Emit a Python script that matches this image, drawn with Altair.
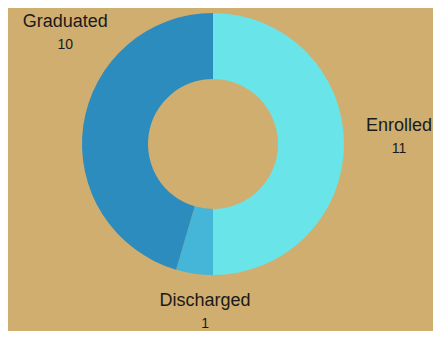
import altair as alt
import pandas as pd
import math

categories = ["Enrolled", "Discharged", "Graduated"]
values = [11, 1, 10]
colors = ["#69E5E9", "#45B6D7", "#2D8CBE"]

# label placement (angle in degrees clockwise from top, distance in px from centre)
label_angle = [88.2, 182.7, 306.6]
label_dist = [186, 169, 184]

df = pd.DataFrame({
    "category": categories,
    "value": values,
    "order": list(range(len(categories))),
    "lab_theta": [a * math.pi / 180 for a in label_angle],
    "lab_r": label_dist,
})

base = alt.Chart(df)

arcs = base.mark_arc(outerRadius=131, innerRadius=65, stroke=None).encode(
    theta=alt.Theta("value:Q", stack=True),
    color=alt.Color("category:N", scale=alt.Scale(domain=categories, range=colors), legend=None),
    order=alt.Order("order:Q"),
)

names = base.mark_text(font="Liberation Sans", fontSize=18, color="#1a1a1a", dy=-12).encode(
    theta=alt.Theta("lab_theta:Q", scale=None),
    radius=alt.Radius("lab_r:Q", scale=None),
    text="category:N",
)

nums = base.mark_text(font="Liberation Sans", fontSize=14, color="#1a1a1a", dy=11).encode(
    theta=alt.Theta("lab_theta:Q", scale=None),
    radius=alt.Radius("lab_r:Q", scale=None),
    text="value:Q",
)

chart = alt.layer(arcs, names, nums).properties(
    width=410,
    height=272,
    autosize=alt.AutoSizeParams(type="none"),
    padding={"left": 0, "top": 0, "right": 15, "bottom": 51},
    background="#CFAE6F",
).configure_view(stroke=None)

chart.save("out.html", embed_options={"renderer": "svg", "actions": False})
